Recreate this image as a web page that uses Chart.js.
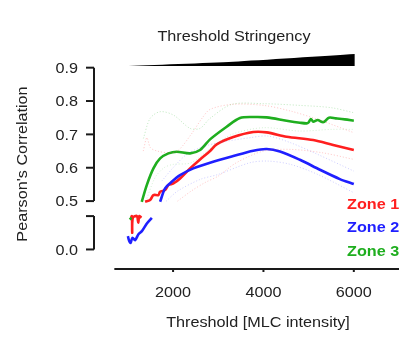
<!DOCTYPE html>
<html>
<head>
<meta charset="utf-8">
<script src="https://cdn.jsdelivr.net/npm/chart.js@4/dist/chart.umd.min.js"></script>
<style>
  html, body { margin: 0; padding: 0; background: #fff; }
  #wrap { width: 414px; height: 338px; }
</style>
</head>
<body>
<div id="wrap"><canvas id="corrChart" width="414" height="338"></canvas></div>
<script>
// ---- data ----
const xTicks = [2000, 4000, 6000];
const yTicksUpper = [0.5, 0.6, 0.7, 0.8, 0.9];
const yTicksLower = [0.0];
const zoneNames = ['Zone 1', 'Zone 2', 'Zone 3'];

// main curves (upper part of the broken axis)
const zone1Thresh = [1381, 1492, 1565, 1676, 1713, 1823, 1897, 2007, 2155, 2376, 2597, 2818, 2965, 3333, 3775, 4070, 4512, 5101, 5543, 6000];
const zone1Corr   = [0.498, 0.503, 0.518, 0.518, 0.528, 0.533, 0.548, 0.553, 0.568, 0.598, 0.625, 0.650, 0.670, 0.692, 0.707, 0.706, 0.693, 0.683, 0.668, 0.653];
const zone2Thresh = [1713, 1823, 1970, 2155, 2449, 2818, 3333, 3775, 4070, 4365, 4807, 5249, 5691, 6000];
const zone2Corr   = [0.498, 0.538, 0.558, 0.578, 0.598, 0.615, 0.635, 0.651, 0.656, 0.649, 0.624, 0.594, 0.566, 0.551];
const zone3Thresh = [1307, 1418, 1565, 1713, 1897, 2081, 2376, 2597, 2818, 3186, 3481, 3775, 4070, 4512, 4807, 4954, 5000, 5050, 5100, 5200, 5300, 5350, 5450, 5600, 5800, 6000];
const zone3Corr   = [0.498, 0.548, 0.598, 0.628, 0.643, 0.648, 0.643, 0.653, 0.685, 0.723, 0.749, 0.752, 0.751, 0.741, 0.735, 0.733, 0.736, 0.746, 0.738, 0.743, 0.737, 0.738, 0.750, 0.748, 0.745, 0.741];

// low-threshold pieces (lower part of the broken axis)
const zone1LowThresh = [1070, 1090, 1095, 1110, 1200, 1230, 1250, 1300];
const zone1LowCorr   = [0.095, 0.100, 0.050, 0.095, 0.100, 0.080, 0.100, 0.095];
const zone2LowThresh = [1000, 1030, 1060, 1100, 1160, 1230, 1310, 1420, 1530];
const zone2LowCorr   = [0.040, 0.025, 0.020, 0.035, 0.028, 0.045, 0.055, 0.078, 0.095];
const zone3LowThresh = [1040, 1080];
const zone3LowCorr   = [0.090, 0.095];

// faint confidence bands
const zone1UpThresh = [1340, 1420, 1500, 1650, 1900, 2100, 2400, 2650, 2820, 3300, 4000, 4600, 5200, 6000];
const zone1UpCorr   = [0.650, 0.690, 0.660, 0.650, 0.645, 0.650, 0.700, 0.750, 0.775, 0.790, 0.787, 0.770, 0.745, 0.705];
const zone1DnThresh = [2100, 2400, 2700, 3000, 3400, 4000, 4600, 5300, 6000];
const zone1DnCorr   = [0.500, 0.530, 0.555, 0.575, 0.615, 0.650, 0.655, 0.645, 0.625];
const zone2UpThresh = [1750, 2000, 2300, 2600, 3000, 3700, 4100, 4600, 5200, 6000];
const zone2UpCorr   = [0.560, 0.600, 0.640, 0.660, 0.675, 0.690, 0.695, 0.675, 0.640, 0.590];
const zone2DnThresh = [1850, 2100, 2600, 3000, 3700, 4100, 4600, 5200, 6000];
const zone2DnCorr   = [0.500, 0.530, 0.565, 0.580, 0.615, 0.620, 0.610, 0.580, 0.525];
const zone3UpThresh = [1344, 1492, 1713, 2007, 2376, 2597, 2818, 3300, 4000, 4800, 5500, 6000];
const zone3UpCorr   = [0.688, 0.748, 0.768, 0.758, 0.718, 0.718, 0.748, 0.790, 0.792, 0.787, 0.780, 0.765];
const zone3DnThresh = [1400, 1600, 1800, 2000, 2400, 2800, 3300, 4000, 4800, 5500, 6000];
const zone3DnCorr   = [0.500, 0.570, 0.600, 0.610, 0.615, 0.655, 0.700, 0.720, 0.710, 0.715, 0.715];

// stringency wedge
const wedgeThresh = [917, 3331, 6022];
const wedgeTop    = [0.905, 0.918, 0.941];
const wedgeBase   = 0.905;

// ---- broken axis: values <= 0.1 are shifted up to sit just below 0.5 ----
const BREAK_SHIFT = 0.355;
function disp(v) { return v > 0.3 ? v : v + BREAK_SHIFT; }
function pts(xs, ys) { return xs.map((x, i) => ({ x: x, y: disp(ys[i]) })); }

const RED = '#ff1f1f', BLUE = '#1f1fff', GREEN = '#1fae1f';
const FONT = '"Liberation Sans", Arial, Helvetica, sans-serif';
const STRETCH = 1.08; // text in the picture is a little wide

function mainLine(data, color) {
    return { data: data, borderColor: color, borderWidth: 2.6, pointRadius: 0, tension: 0.3, fill: false };
}
function faintLine(data, color) {
    return { data: data, borderColor: color, borderWidth: 1, borderDash: [1, 2], pointRadius: 0, tension: 0.3, fill: false };
}
function wideText(ctx, txt, x, y) {
    ctx.save();
    ctx.translate(x, y);
    ctx.scale(STRETCH, 1);
    ctx.fillText(txt, 0, 0);
    ctx.restore();
}

var axesPlugin = {
    id: 'brokenAxes',
    afterDraw: function(chart) {
        const ctx = chart.ctx;
        const xs = chart.scales.x, ys = chart.scales.y;
        const axX = chart.chartArea.left;
        const axY = chart.chartArea.bottom;
        ctx.save();
        ctx.strokeStyle = '#1a1a1a';
        ctx.fillStyle = '#222';
        ctx.lineWidth = 2;

        // y axis, upper segment
        const yTop = ys.getPixelForValue(0.9), yMid = ys.getPixelForValue(0.5);
        ctx.beginPath(); ctx.moveTo(axX, yTop); ctx.lineTo(axX, yMid); ctx.stroke();
        ctx.font = '15px ' + FONT;
        ctx.textAlign = 'right'; ctx.textBaseline = 'middle';
        yTicksUpper.forEach(function(t) {
            const py = ys.getPixelForValue(t);
            ctx.beginPath(); ctx.moveTo(axX - 8, py); ctx.lineTo(axX, py); ctx.stroke();
            wideText(ctx, t.toFixed(1), axX - 16, py + 1);
        });
        // y axis, lower segment
        const yLowTop = ys.getPixelForValue(disp(0.1)), yLowBot = ys.getPixelForValue(disp(0.0));
        ctx.beginPath(); ctx.moveTo(axX, yLowTop); ctx.lineTo(axX, yLowBot); ctx.stroke();
        ctx.beginPath(); ctx.moveTo(axX - 8, yLowTop); ctx.lineTo(axX, yLowTop); ctx.stroke();
        yTicksLower.forEach(function(t) {
            const py = ys.getPixelForValue(disp(t));
            ctx.beginPath(); ctx.moveTo(axX - 8, py); ctx.lineTo(axX, py); ctx.stroke();
            wideText(ctx, t.toFixed(1), axX - 16, py + 1);
        });

        // x axis
        ctx.beginPath(); ctx.moveTo(xs.getPixelForValue(700), axY); ctx.lineTo(chart.chartArea.right, axY); ctx.stroke();
        ctx.textAlign = 'center';
        xTicks.forEach(function(t) {
            const px = xs.getPixelForValue(t);
            ctx.beginPath(); ctx.moveTo(px, axY); ctx.lineTo(px, axY + 3); ctx.stroke();
            wideText(ctx, String(t), px, axY + 24);
        });

        // titles
        wideText(ctx, 'Threshold [MLC intensity]', 258, 323);
        wideText(ctx, 'Threshold Stringency', 234, 37);
        ctx.save();
        ctx.translate(23, 164); ctx.rotate(-Math.PI / 2);
        ctx.scale(STRETCH, 1);
        ctx.fillText("Pearson's Correlation", 0, 0);
        ctx.restore();

        // legend
        ctx.font = 'bold 15px ' + FONT;
        ctx.textAlign = 'left';
        const legendColors = [RED, BLUE, GREEN];
        const legendY = [205, 228, 252];
        zoneNames.forEach(function(n, i) {
            ctx.fillStyle = legendColors[i];
            wideText(ctx, n, 347, legendY[i]);
        });
        ctx.restore();
    }
};

const ctx = document.getElementById('corrChart').getContext('2d');
const corrChart = new Chart(ctx, {
    type: 'line',
    data: {
        datasets: [
            { data: pts(wedgeThresh, wedgeTop), borderWidth: 0, borderColor: '#000', backgroundColor: '#000',
              pointRadius: 0, tension: 0.2, fill: { value: wedgeBase } },
            faintLine(pts(zone1UpThresh, zone1UpCorr), 'rgba(255,60,60,0.3)'),
            faintLine(pts(zone1DnThresh, zone1DnCorr), 'rgba(255,60,60,0.3)'),
            faintLine(pts(zone2UpThresh, zone2UpCorr), 'rgba(60,60,255,0.25)'),
            faintLine(pts(zone2DnThresh, zone2DnCorr), 'rgba(60,60,255,0.25)'),
            faintLine(pts(zone3UpThresh, zone3UpCorr), 'rgba(40,180,40,0.3)'),
            faintLine(pts(zone3DnThresh, zone3DnCorr), 'rgba(40,180,40,0.2)'),
            mainLine(pts(zone3LowThresh, zone3LowCorr), GREEN),
            mainLine(pts(zone1LowThresh, zone1LowCorr), RED),
            mainLine(pts(zone2LowThresh, zone2LowCorr), BLUE),
            mainLine(pts(zone2Thresh, zone2Corr), BLUE),
            mainLine(pts(zone1Thresh, zone1Corr), RED),
            mainLine(pts(zone3Thresh, zone3Corr), GREEN)
        ]
    },
    options: {
        responsive: false,
        animation: false,
        layout: { padding: { left: 94, right: 15, top: 51, bottom: 69 } },
        scales: {
            x: { type: 'linear', min: 250, max: 7000, display: false },
            y: { type: 'linear', min: 0.2964, max: 0.95, display: false }
        },
        plugins: { legend: { display: false }, tooltip: { enabled: false } }
    },
    plugins: [axesPlugin]
});
</script>
</body>
</html>
